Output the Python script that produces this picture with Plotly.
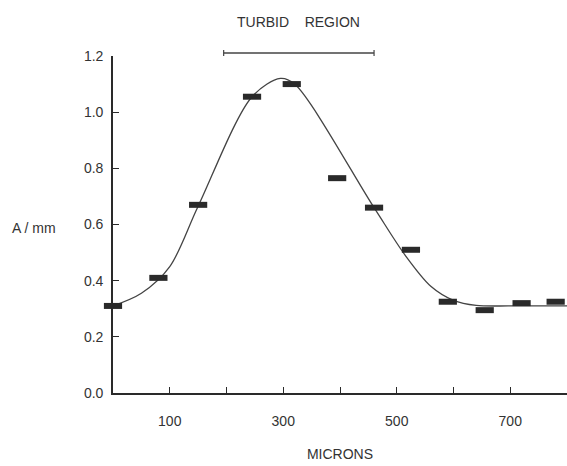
import plotly.graph_objects as go

# Measured points (microns, A/mm)
point_x = [0, 80, 150, 245, 315, 395, 460, 525, 590, 655, 720, 780]
point_y = [0.31, 0.41, 0.67, 1.055, 1.10, 0.765, 0.66, 0.51, 0.325, 0.295, 0.32, 0.325]

# Fitted curve
curve_x = [0, 50, 100, 150, 245, 295, 320, 460, 515, 560, 600, 640, 700, 800]
curve_y = [0.31, 0.355, 0.45, 0.665, 1.055, 1.12, 1.10, 0.66, 0.49,
           0.38, 0.33, 0.312, 0.31, 0.31]

turbid_region = [195, 460]
turbid_label = "TURBID&nbsp;&nbsp;&nbsp;&nbsp;REGION"

x_tickvals = [0, 100, 200, 300, 400, 500, 600, 700, 800]
x_ticktext = ["", "100", "", "300", "", "500", "", "700", ""]
y_tickvals = [0.0, 0.2, 0.4, 0.6, 0.8, 1.0, 1.2]

ink = "#2a2a2a"
font = dict(family="Liberation Sans, Arial, sans-serif", size=14, color="#333")

fig = go.Figure()
fig.add_trace(go.Scatter(
    x=curve_x, y=curve_y, mode="lines",
    line=dict(color="#444", width=1.3, shape="spline", smoothing=0.9),
    hoverinfo="skip", cliponaxis=False,
))
fig.add_trace(go.Scatter(
    x=point_x, y=point_y, mode="markers",
    marker=dict(symbol="line-ew", size=13, line=dict(color=ink, width=6)),
    cliponaxis=False,
))

bar_y = 1.009
fig.add_shape(type="line", xref="x", yref="paper", x0=turbid_region[0], x1=turbid_region[1],
              y0=bar_y, y1=bar_y, line=dict(color="#444", width=1.5))
for xv in turbid_region:
    fig.add_shape(type="line", xref="x", yref="paper", x0=xv, x1=xv,
                  y0=bar_y - 0.009, y1=bar_y + 0.009, line=dict(color="#444", width=1.2))

fig.add_annotation(x=(turbid_region[0] + turbid_region[1]) / 2, xref="x",
                   y=1.10, yref="paper", text=turbid_label, showarrow=False,
                   font=font, xanchor="center", yanchor="middle")
fig.add_annotation(x=0, xref="paper", xshift=-79, y=0.49, yref="paper",
                   text="A / mm", showarrow=False, font=font,
                   xanchor="center", yanchor="middle")

fig.update_layout(
    width=567, height=466,
    margin=dict(l=113, r=0, t=56, b=73),
    paper_bgcolor="white", plot_bgcolor="white",
    showlegend=False, font=font,
    xaxis=dict(range=[0, 800], tickvals=x_tickvals, ticktext=x_ticktext,
               ticks="inside", ticklen=6, tickwidth=1.1, tickcolor=ink,
               showline=True, linecolor=ink, linewidth=1.6, showgrid=False,
               zeroline=False, ticklabelstandoff=14,
               title=dict(text="MICRONS", font=font, standoff=22)),
    yaxis=dict(range=[0, 1.2], tickvals=y_tickvals, tickformat=".1f",
               ticks="inside", ticklen=6, tickwidth=1.1, tickcolor=ink,
               showline=True, linecolor=ink, linewidth=1.6, showgrid=False,
               zeroline=False, ticklabelstandoff=5),
)

fig.write_html("out.html")
